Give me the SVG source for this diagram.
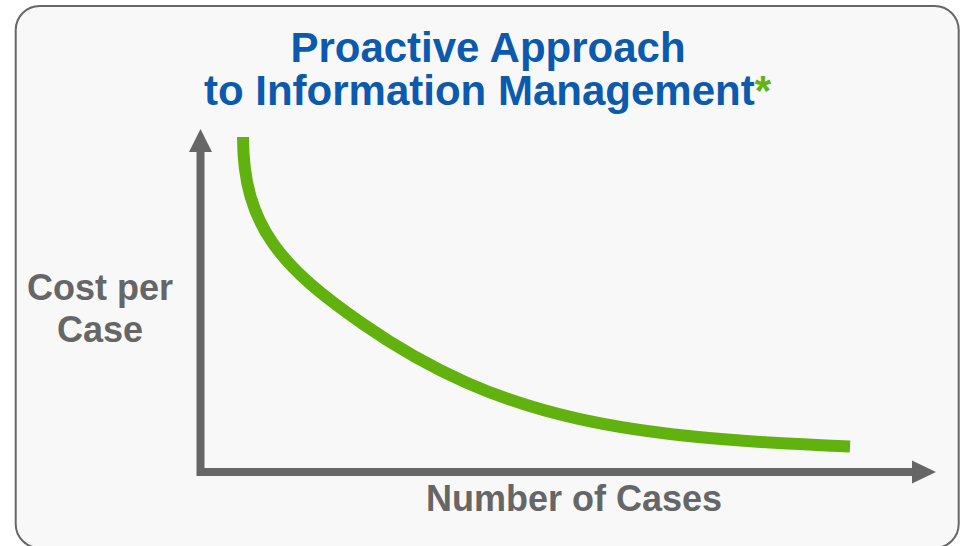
<svg xmlns="http://www.w3.org/2000/svg" width="961" height="546" viewBox="0 0 961 546">
<style>
.title{font-family:"Liberation Sans",Arial,sans-serif;font-weight:bold;font-size:42px;fill:#0b5aad;text-anchor:middle}
.ast{fill:#62b313}
.label{font-family:"Liberation Sans",Arial,sans-serif;font-weight:bold;font-size:36px;fill:#666666;text-anchor:middle}
.axis{fill:none;stroke:#666666;stroke-width:8}
.head{fill:#666666}
.curve{fill:none;stroke:#62b20f;stroke-width:12;stroke-linecap:butt}
</style>
<rect width="961" height="546" fill="#ffffff"/>
<g id="frame">
<rect x="15.7" y="6" width="943" height="542" rx="24" ry="24" fill="#f8f8f8" stroke="#666666" stroke-width="2"/>
</g>
<g id="title">
<text class="title" x="488" y="62">Proactive Approach</text>
<text class="title" x="487.5" y="105">to Information Management<tspan class="ast">*</tspan></text>
</g>
<g id="y-label">
<text class="label" x="100" y="300">Cost per</text>
<text class="label" x="100" y="342">Case</text>
</g>
<g id="x-label">
<text class="label" x="574" y="511">Number of Cases</text>
</g>
<g id="connectors">
<polyline class="axis" points="200.5,150 200.5,472 914,472"/>
<polygon class="head" points="200.5,129 212,152 189,152"/>
<polygon class="head" points="936,472 912,460.5 912,483.5"/>
</g>
<g id="curve">
<path class="curve" d="M243,137 C243,227 283,268.4 363,324 C503,421.3 630,437.7 850,446.5"/>
</g>
</svg>
